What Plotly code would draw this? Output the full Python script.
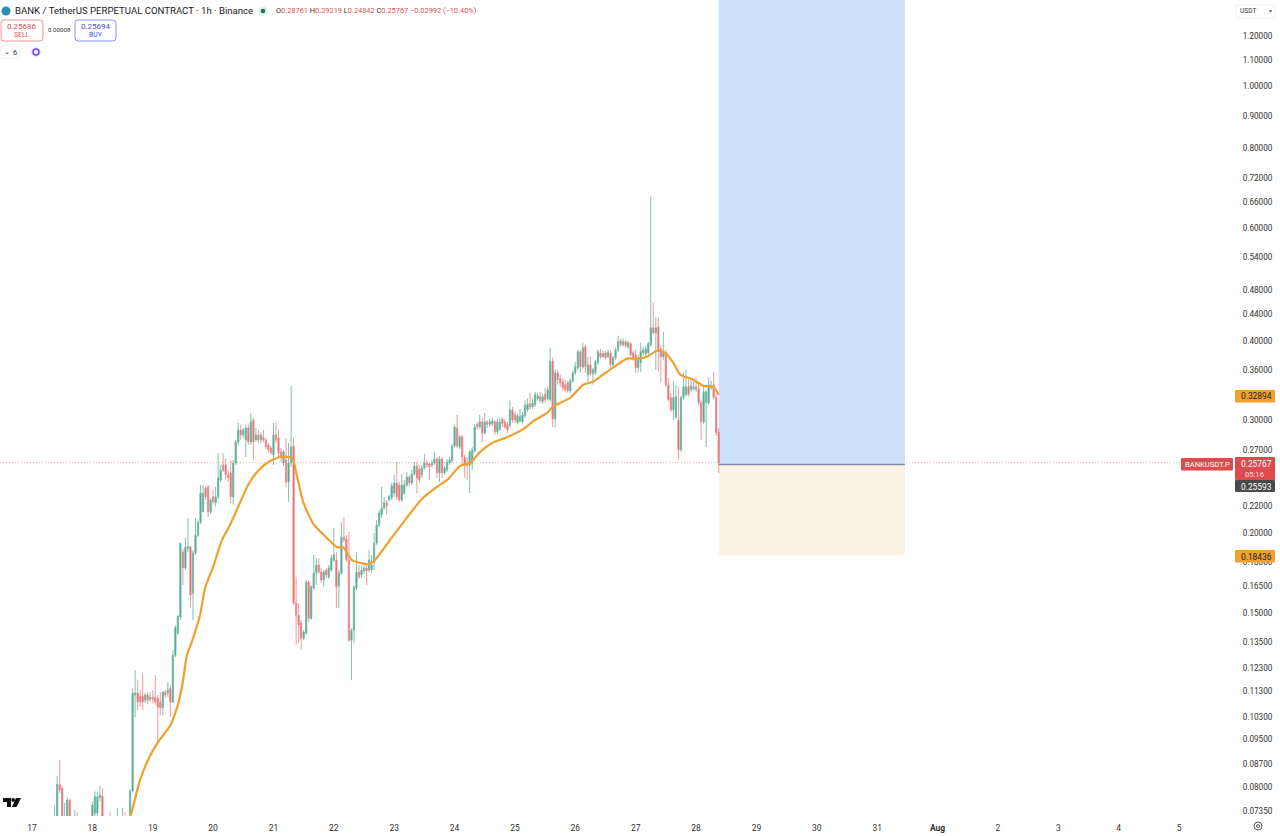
from datetime import datetime, timedelta
import math
import plotly.graph_objects as go

BASE = datetime(2025, 7, 17)
FIRST_HOUR = 9

open_prices = [
    .069,.068,.0808,.0797,.068,.069,.0764,.070,.069,.070,
    .070,.0695,.070,.0705,.070,.0705,.0728,.0728,.0770,.0775,
    .070,.0695,.0705,.070,.0695,.070,.0712,.070,.0712,.0705,
    .0712,.0789,.1115,.1123,.1111,.1111,.1094,.1115,.1098,.1106,
    .1106,.1102,.1087,.1064,.1127,.1123,.1143,.1087,.1287,.1394,
    .1477,.1866,.1763,.1890,.1903,.1610,.1861,.1984,.2080,.2158,
    .2352,.2361,.2158,.2278,.2230,.2278,.2421,.2556,.2556,.2466,
    .2483,.2278,.2574,.2777,.2900,.2848,.2797,.2921,.2777,.3006,
    .2797,.2848,.2797,.2828,.2797,.2747,.2718,.2650,.2848,.2817,
    .2679,.2574,.2602,.2404,.2574,.2737,.1553,.1487,.1446,.1369,
    .1394,.1676,.1471,.1640,.1731,.1782,.1737,.1688,.1750,.1707,
    .1750,.1814,.1814,.1652,.1731,.1970,.1956,.1814,.1359,.1409,
    .1640,.1737,.1719,.1744,.1763,.1750,.1750,.1801,.1928,.2058,
    .2135,.2188,.2230,.2253,.2270,.2310,.2395,.2378,.2253,.2310,
    .2378,.2447,.2395,.2474,.2547,.2519,.2466,.2528,.2574,.2565,
    .2556,.2574,.2612,.2483,.2612,.2483,.2510,.2574,.2593,.2737,
    .2921,.2727,.2828,.2630,.2574,.2556,.2574,.2689,.2958,.2931,
    .2985,.2869,.2985,.2958,.2968,.2985,.2880,.2910,.3016,.2985,
    .2958,.2948,.3117,.3062,.2975,.2995,.2985,.3051,.3117,.3185,
    .3151,.3173,.3246,.3270,.3210,.3295,.3246,.3234,.3710,.3016,
    .3563,.3487,.3450,.3413,.3438,.3340,.3463,.3563,.3629,.3844,
    .3640,.3914,.3539,.3668,.3551,.3563,.3697,.3830,.3776,.3830,
    .3776,.3830,.3668,.3762,.3872,.4000,.3943,.3985,.3914,.3958,
    .3830,.3802,.3629,.3697,.3830,.3816,.3830,.3943,.4190,.4115,
    .4205,.3886,.3776,.3830,.3413,.3258,.3117,.3037,.3006,.2698,
    .3258,.3295,.3388,.3352,.3364,.3388,.3364,.3197,.2985,.3197,
    .3197,.3375,.3413,.3258,.28761,
]
high_prices = [
    .0750,.0833,.0882,.0803,.0756,.0770,.0767,.0712,.0736,.0731,
    .0712,.071,.0712,.0712,.0715,.0760,.0788,.0788,.0803,.0797,
    .0712,.0712,.0731,.0712,.0712,.0743,.0716,.0742,.0731,.0720,
    .0795,.1143,.1220,.1176,.1135,.1207,.1123,.1127,.1127,.1135,
    .1198,.1115,.1127,.1131,.1135,.1168,.1155,.1311,.1433,.1487,
    .1928,.1890,.1963,.2110,.1910,.1880,.2110,.2095,.2378,.2378,
    .2369,.2378,.2270,.2335,.2361,.2667,.2556,.2667,.2612,.2510,
    .2602,.2602,.2797,.2975,.2958,.2921,.2958,.2958,.3083,.3027,
    .2921,.2900,.2880,.2900,.2817,.2767,.2737,.2975,.2975,.2900,
    .2718,.2698,.2817,.2767,.3398,.2817,.1707,.1553,.1461,.1409,
    .1688,.1688,.1658,.1848,.1827,.1827,.1763,.1750,.1763,.1782,
    .1848,.2036,.1866,.1750,.2080,.2118,.1984,.2007,.1419,.1658,
    .1866,.1782,.1782,.1801,.1795,.1880,.1848,.1999,.2095,.2173,
    .2361,.2278,.2253,.2295,.2395,.2466,.2584,.2404,.2474,.2421,
    .2492,.2466,.2510,.2584,.2584,.2556,.2556,.2661,.2602,.2584,
    .2602,.2679,.2630,.2640,.2630,.2547,.2612,.2630,.2757,.2958,
    .3062,.2848,.2848,.2650,.2630,.2698,.2727,.2958,.2985,.3062,
    .3027,.3083,.3006,.3016,.3027,.3006,.3016,.3027,.3037,.3016,
    .2985,.3222,.3151,.3095,.3072,.3128,.3095,.3234,.3246,.3315,
    .3246,.3327,.3315,.3327,.3303,.3375,.3388,.3900,.3762,.3603,
    .3603,.3539,.3500,.3475,.3463,.3487,.3590,.3710,.3872,.3872,
    .3972,.3943,.3776,.3776,.3629,.3735,.3872,.3886,.3858,.3858,
    .3872,.3858,.3790,.3900,.4074,.4030,.4030,.4015,.4000,.3985,
    .3858,.3872,.3802,.3972,.3914,.3929,.3985,.6727,.4590,.4360,
    .4345,.3943,.4130,.3872,.3500,.3315,.3450,.3413,.3388,.3283,
    .3563,.3603,.3475,.3500,.3450,.3500,.3413,.3234,.3388,.3352,
    .3500,.3463,.3576,.3295,.29219,
]
low_prices = [
    .068,.067,.0784,.067,.067,.068,.068,.069,.068,.068,
    .069,.068,.069,.069,.069,.070,.0715,.072,.0760,.069,
    .069,.069,.069,.069,.069,.069,.069,.069,.069,.069,
    .0705,.0785,.1030,.1056,.1068,.1056,.1083,.1079,.1087,.1083,
    .1076,.0945,.1037,.1037,.1102,.1106,.1030,.1083,.1278,.1384,
    .1461,.1658,.1750,.1866,.1531,.1461,.1848,.1970,.2065,.2158,
    .2253,.2118,.2143,.2214,.2199,.2261,.2404,.2492,.2421,.2404,
    .2230,.2214,.2556,.2747,.2797,.2817,.2630,.2747,.2747,.2602,
    .2777,.2767,.2767,.2777,.2708,.2670,.2650,.2556,.2767,.2630,
    .2584,.2547,.2361,.2237,.2538,.1542,.1335,.1345,.1311,.1359,
    .1384,.1451,.1461,.1628,.1658,.1725,.1670,.1646,.1700,.1694,
    .1737,.1801,.1525,.1525,.1719,.1935,.1801,.1349,.1176,.1345,
    .1628,.1694,.1700,.1725,.1658,.1737,.1731,.1750,.1913,.2043,
    .2110,.2173,.2135,.2237,.2253,.2278,.2253,.2237,.2237,.2295,
    .2361,.2369,.2378,.2456,.2310,.2404,.2439,.2510,.2528,.2421,
    .2538,.2556,.2439,.2404,.2439,.2466,.2492,.2556,.2574,.2718,
    .2718,.2708,.2556,.2439,.2421,.2310,.2510,.2670,.2900,.2910,
    .2777,.2848,.2921,.2931,.2941,.2848,.2858,.2890,.2931,.2910,
    .2869,.2921,.2975,.2975,.2958,.2975,.2968,.3027,.3095,.3117,
    .3128,.3151,.3222,.3197,.3185,.3197,.3222,.3210,.2931,.2921,
    .3413,.3388,.3340,.3327,.3315,.3315,.3438,.3539,.3603,.3563,
    .3616,.3563,.3450,.3526,.3413,.3539,.3668,.3749,.3762,.3735,
    .3749,.3640,.3640,.3735,.3844,.3914,.3914,.3900,.3886,.3776,
    .3722,.3563,.3563,.3576,.3790,.3762,.3790,.3914,.4090,.3603,
    .3576,.3438,.3735,.3388,.3210,.3095,.3006,.3016,.2602,.2679,
    .3234,.3270,.3270,.3327,.3340,.3327,.3173,.2797,.2958,.2727,
    .3173,.3352,.3234,.2838,.24842,
]
close_prices = [
    .0705,.0808,.0792,.068,.0715,.0764,.069,.0705,.070,.069,
    .0695,.070,.0705,.070,.0705,.0750,.0773,.0773,.0778,.070,
    .0695,.070,.070,.0695,.070,.0712,.070,.0715,.0705,.0712,
    .0789,.1123,.1123,.1087,.1087,.1087,.1115,.1094,.1106,.1098,
    .1087,.1068,.1064,.1127,.1115,.1135,.1087,.1287,.1424,.1482,
    .1928,.1763,.1900,.1903,.1599,.1861,.1984,.2080,.2310,.2310,
    .2278,.2158,.2253,.2237,.2278,.2439,.2510,.2510,.2466,.2439,
    .2278,.2574,.2777,.2900,.2848,.2900,.2921,.2777,.2985,.2777,
    .2848,.2797,.2848,.2797,.2727,.2698,.2670,.2848,.2797,.2670,
    .2621,.2679,.2404,.2574,.2727,.1553,.1487,.1435,.1369,.1399,
    .1676,.1471,.1646,.1731,.1782,.1737,.1688,.1737,.1719,.1763,
    .1827,.1848,.1646,.1731,.1970,.1949,.1814,.1359,.1409,.1646,
    .1737,.1707,.1750,.1763,.1744,.1814,.1782,.1928,.2058,.2150,
    .2188,.2230,.2206,.2278,.2369,.2395,.2278,.2253,.2378,.2378,
    .2447,.2395,.2474,.2547,.2439,.2421,.2528,.2574,.2556,.2538,
    .2574,.2612,.2483,.2612,.2483,.2528,.2584,.2602,.2737,.2931,
    .2737,.2828,.2630,.2556,.2547,.2679,.2698,.2931,.2931,.2985,
    .2869,.2985,.2958,.2985,.2995,.2880,.2985,.2985,.2968,.2931,
    .2900,.3117,.3006,.3006,.3051,.3040,.3062,.3173,.3185,.3151,
    .3197,.3295,.3283,.3222,.3270,.3234,.3352,.3710,.3016,.3563,
    .3475,.3438,.3375,.3352,.3340,.3463,.3563,.3640,.3844,.3640,
    .3900,.3640,.3668,.3551,.3603,.3710,.3844,.3776,.3816,.3762,
    .3830,.3668,.3762,.3872,.3985,.3943,.3985,.3929,.3972,.3802,
    .3762,.3629,.3735,.3844,.3872,.3886,.3958,.4190,.4115,.4190,
    .3872,.3776,.3830,.3413,.3234,.3117,.3258,.3270,.2698,.3258,
    .3388,.3388,.3295,.3401,.3388,.3352,.3197,.2985,.3327,.3327,
    .3413,.3401,.3258,.2869,.25767,
]

ema_hours = [39, 39.6, 42.9, 46.1, 50.1, 54.9, 57.7, 59.6, 61.6, 64, 66.8, 68.8, 72, 75.5, 78.7, 81.9,
             85.9, 89.5, 93.4, 98.6, 103.4, 105.4, 107.8, 111.7, 117.3, 121.3, 123.7, 127.2, 133.2,
             135.6, 142.3, 148.3, 155, 161, 165.4, 170.2, 174.2, 178.1, 182.9, 188.9, 194.8, 200,
             204.8, 207.2, 213.9, 219.1, 223, 227, 231, 236.6, 240.6, 244.5, 248.5, 251.7, 254.9,
             257.7, 262.8, 266.8, 270.8, 273]
ema_values = [.0721, .0731, .0820, .0882, .0941, .0998, .1067, .1147, .1287, .1368, .1487, .1640, .1769,
              .1949, .2058, .2195, .2378, .2492, .2574, .2630, .2621, .2447, .2237, .2071, .1963, .1900,
              .1900, .1814, .1788, .1801, .1949, .2095, .2261, .2361, .2429, .2547, .2574, .2677, .2766,
              .2825, .2900, .3006, .3083, .3157, .3255, .3413, .3450, .3539, .3629, .3749, .3749, .3776,
              .3858, .3830, .3695, .3539, .3475, .3401, .3389, .3290]

y_tick_values = [1.2, 1.1, 1.0, 0.9, 0.8, 0.72, 0.66, 0.6, 0.54, 0.48, 0.44, 0.4, 0.36, 0.3, 0.27, 0.22,
                 0.2, 0.18, 0.165, 0.15, 0.135, 0.123, 0.113, 0.103, 0.095, 0.087, 0.08, 0.0735]
x_tick_labels = ["17", "18", "19", "20", "21", "22", "23", "24", "25", "26", "27", "28", "29", "30", "31",
                 "<b>Aug</b>", "2", "3", "4", "5"]

LAST_PRICE = 0.25767
ENTRY_PRICE = 0.25593
STOP_PRICE = 0.18436
EMA_PRICE = 0.32894

W, H = 1233.0, 816.0
FONT = "Roboto"


def at(hours):
    return BASE + timedelta(hours=hours)


def fx(px):
    return px / W


def fy(py):
    return 1 - py / H


times = [at(FIRST_HOUR + i) for i in range(len(open_prices))]
GREEN, RED, ORANGE = "#2f9a80", "#e0474c", "#efa02f"

fig = go.Figure()
fig.add_trace(go.Candlestick(
    x=times, open=open_prices, high=high_prices, low=low_prices, close=close_prices,
    increasing=dict(line=dict(color="#74b9a6", width=0.9), fillcolor=GREEN),
    decreasing=dict(line=dict(color="#ec8f91", width=0.9), fillcolor=RED),
    whiskerwidth=0, showlegend=False, hoverinfo="skip",
))
fig.add_trace(go.Scatter(
    x=[at(h) for h in ema_hours], y=ema_values, mode="lines",
    line=dict(color=ORANGE, width=2.2, shape="spline", smoothing=0.6),
    showlegend=False, hoverinfo="skip",
))

last_t = times[-1]
box_end = at(347)
Y_TOP = 1.366
shapes = [
    dict(type="rect", xref="x", yref="y", x0=last_t, x1=box_end, y0=ENTRY_PRICE, y1=Y_TOP,
         fillcolor="#cce2fb", line_width=0, layer="below"),
    dict(type="rect", xref="x", yref="y", x0=last_t, x1=box_end, y0=STOP_PRICE, y1=ENTRY_PRICE,
         fillcolor="#fbf3e3", line_width=0, layer="below"),
    dict(type="line", xref="x", yref="y", x0=last_t, x1=box_end, y0=ENTRY_PRICE, y1=ENTRY_PRICE,
         line=dict(color="#7f8fa3", width=1.5)),
    dict(type="line", xref="paper", yref="y", x0=0, x1=1, y0=LAST_PRICE, y1=LAST_PRICE,
         line=dict(color="#eeb4b4", width=1, dash="1px,2px"), layer="below"),
]


def box(x0, y0, x1, y1, fill="rgba(0,0,0,0)", line=None, r=2, lw=0.8):
    path = (f"M {fx(x0 + r)} {fy(y0)} L {fx(x1 - r)} {fy(y0)} Q {fx(x1)} {fy(y0)} {fx(x1)} {fy(y0 + r)} "
            f"L {fx(x1)} {fy(y1 - r)} Q {fx(x1)} {fy(y1)} {fx(x1 - r)} {fy(y1)} "
            f"L {fx(x0 + r)} {fy(y1)} Q {fx(x0)} {fy(y1)} {fx(x0)} {fy(y1 - r)} "
            f"L {fx(x0)} {fy(y0 + r)} Q {fx(x0)} {fy(y0)} {fx(x0 + r)} {fy(y0)} Z")
    return dict(type="path", xref="paper", yref="paper", path=path, fillcolor=fill,
                line=dict(color=line if line else "rgba(0,0,0,0)", width=lw), layer="above")


def circle(cx, cy, r, fill="rgba(0,0,0,0)", line=None, lw=1):
    return dict(type="circle", xref="paper", yref="paper", x0=fx(cx - r), x1=fx(cx + r),
                y0=fy(cy + r), y1=fy(cy - r), fillcolor=fill,
                line=dict(color=line if line else "rgba(0,0,0,0)", width=lw), layer="above")


def poly(points, fill):
    path = "M " + " L ".join(f"{fx(a)} {fy(b)}" for a, b in points) + " Z"
    return dict(type="path", xref="paper", yref="paper", path=path, fillcolor=fill, line_width=0, layer="above")


shapes += [
    circle(6, 11, 4.5, fill="#2a8bb0"),
    circle(263, 11, 4.5, fill="#dcefe9"),
    circle(263, 11, 2.3, fill="#1f7a63"),
    box(1, 20, 43, 41, fill="#ffffff", line="#e8797c", r=3),
    box(75, 20, 116, 41, fill="#ffffff", line="#6f72e0", r=3),
    box(1, 46, 20, 58, fill="#ffffff", line="#eeeeee", r=2),
    circle(36, 52, 5, fill="#ece6fb"),
    circle(36, 52, 3, line="#6f4fd8", lw=1.5),
    box(1236, 5, 1275, 18, fill="#ffffff", line="#eeeeee", r=2),
    box(1181, 458, 1233, 470.5, fill="#de4b4f", r=1),
    box(1235, 390, 1275, 402.5, fill=ORANGE, r=1),
    box(1235, 457, 1275, 480, fill="#de4b4f", r=1),
    box(1235, 480, 1275, 492, fill="#4a4a4a", r=1),
    box(1235, 550, 1275, 562.5, fill=ORANGE, r=1),
    poly([(3, 798), (11, 798), (11, 807), (7, 807), (7, 802), (3, 802)], "#111111"),
    circle(13.2, 800, 1.9, fill="#111111"),
    poly([(16, 798), (21, 798), (16.5, 807), (12, 807)], "#111111"),
    circle(1258, 826, 4, line="#555555", lw=1),
    circle(1258, 826, 1.5, line="#555555", lw=1),
]


def note(px, py, text, size=8, color="#333333", anchor="left", bold=False):
    return dict(xref="paper", yref="paper", x=fx(px), y=fy(py), text=f"<b>{text}</b>" if bold else text,
                showarrow=False, xanchor=anchor, yanchor="middle",
                font=dict(family=FONT, size=size, color=color), borderpad=0)


RED_TXT = "#d9534f"
annotations = [
    note(14, 11, "BANK / TetherUS PERPETUAL CONTRACT · 1h · Binance", size=9.6, color="#222222"),
    note(275, 11, "O<span style='color:#d9534f'>0.28761</span> H<span style='color:#d9534f'>0.29219</span> "
                  "L<span style='color:#d9534f'>0.24842</span> C<span style='color:#d9534f'>0.25767</span> "
                  "<span style='color:#d9534f'>−0.02992 (−10.40%)</span>", size=7.4),
    note(22, 26.5, "0.25686", size=8, color=RED_TXT, anchor="center"),
    note(22, 35.5, "SELL", size=6.8, color=RED_TXT, anchor="center"),
    note(59, 30.5, "0.00008", size=6.2, anchor="center"),
    note(95.5, 26.5, "0.25694", size=8, color="#4a50d8", anchor="center"),
    note(95.5, 35.5, "BUY", size=6.8, color="#4a50d8", anchor="center"),
    note(6.5, 52.5, "⌄", size=7, anchor="center"),
    note(14.5, 52.5, "6", size=7.5, anchor="center"),
    note(1248, 11.5, "USDT", size=6.6, anchor="center"),
    note(1270, 11, "▾", size=5.5, anchor="center", color="#666666"),
    note(1207, 464.5, "BANKUSDT.P", size=7.6, color="#ffffff", anchor="center"),
    note(1256, 396.5, "0.32894", size=8.4, color="#222222", anchor="center"),
    note(1256, 464, "0.25767", size=8.4, color="#ffffff", anchor="center"),
    note(1255, 474, "05:16", size=7.6, color="#ffe0e0", anchor="center"),
    note(1256, 486.5, "0.25593", size=8.4, color="#ffffff", anchor="center"),
    note(1256, 556.5, "0.18436", size=8.4, color="#222222", anchor="center"),
]

fig.update_layout(
    width=1280, height=836,
    margin=dict(l=0, r=47, t=0, b=20, autoexpand=False),
    paper_bgcolor="#ffffff", plot_bgcolor="#ffffff",
    font=dict(family=FONT, size=8, color="#333333"),
    showlegend=False,
    shapes=shapes,
    annotations=annotations,
    xaxis=dict(
        type="date", range=[at(-12.72), at(477.46)], rangeslider=dict(visible=False),
        tickmode="array", tickvals=[at(24 * i) for i in range(len(x_tick_labels))],
        ticktext=x_tick_labels, showgrid=False, zeroline=False, showline=False,
        ticks="outside", ticklen=4, tickcolor="rgba(0,0,0,0)",
        tickfont=dict(family=FONT, size=8.5, color="#333333"),
    ),
    yaxis=dict(
        type="log", side="right", range=[math.log10(0.0721), math.log10(Y_TOP)],
        tickmode="array", tickvals=y_tick_values, ticktext=[f"{v:.5f}" for v in y_tick_values],
        showgrid=False, zeroline=False, showline=False,
        ticks="outside", ticklen=7, tickcolor="rgba(0,0,0,0)",
        tickfont=dict(family=FONT, size=8.2, color="#333333"),
    ),
)

fig.write_html("out.html", config={"displayModeBar": False},
               post_script="document.body.style.margin='0';document.documentElement.style.overflow='hidden';")
